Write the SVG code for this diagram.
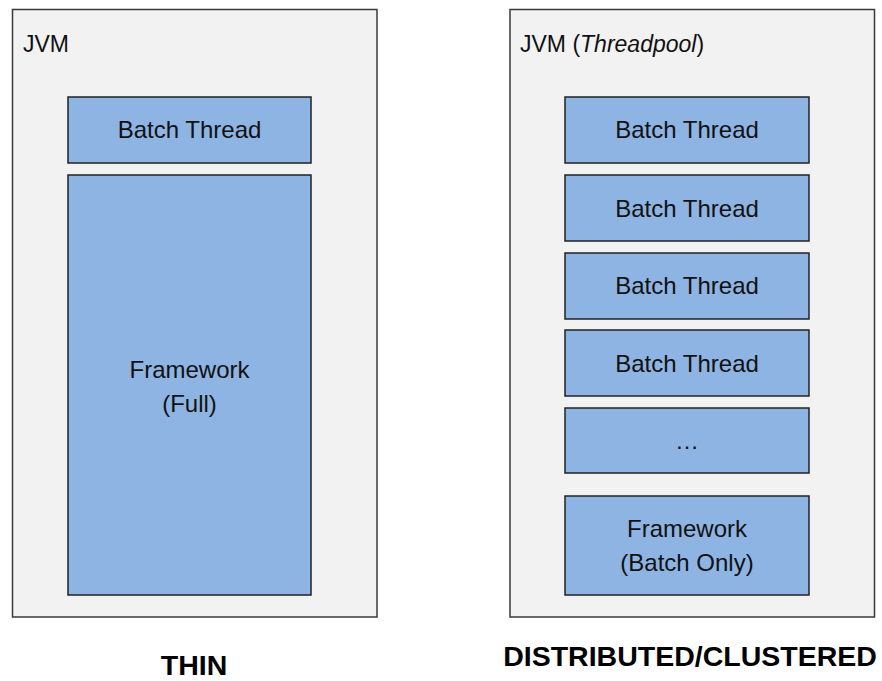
<svg xmlns="http://www.w3.org/2000/svg" width="882" height="681" viewBox="0 0 882 681">
<style>
.jvm{fill:#F2F2F2;stroke:#3A3A3A;stroke-width:1.5}
.blk{fill:#8EB4E3;stroke:#222222;stroke-width:1.5}
.t{font-family:"Liberation Sans",Arial,sans-serif;font-size:24px;fill:#111111;text-anchor:middle}
.lbl{font-family:"Liberation Sans",Arial,sans-serif;font-size:23px;fill:#111111}
.cap{font-family:"Liberation Sans",Arial,sans-serif;font-size:28.5px;font-weight:bold;fill:#000000;text-anchor:middle}
</style>
<rect width="882" height="681" fill="#FFFFFF"/>
<g id="jvm-thin">
<rect class="jvm" x="12.5" y="9.5" width="364.5" height="607.5"/>
<text class="lbl" x="23" y="52">JVM</text>
</g>
<g id="thin-batch-thread">
<rect class="blk" x="68" y="97" width="243" height="66"/>
<text class="t" x="189.5" y="138">Batch Thread</text>
</g>
<g id="thin-framework">
<rect class="blk" x="68" y="175" width="243" height="420"/>
<text class="t" x="189.5" y="378">Framework</text>
<text class="t" x="189.5" y="412">(Full)</text>
</g>
<g id="jvm-dist">
<rect class="jvm" x="510" y="9.5" width="364.5" height="607.5"/>
<text class="lbl" x="520" y="52">JVM (<tspan font-style="italic">Threadpool</tspan>)</text>
</g>
<g id="dist-batch-thread-1">
<rect class="blk" x="565" y="97" width="244" height="66"/>
<text class="t" x="687" y="138">Batch Thread</text>
</g>
<g id="dist-batch-thread-2">
<rect class="blk" x="565" y="175" width="244" height="66"/>
<text class="t" x="687" y="217">Batch Thread</text>
</g>
<g id="dist-batch-thread-3">
<rect class="blk" x="565" y="253" width="244" height="66"/>
<text class="t" x="687" y="294">Batch Thread</text>
</g>
<g id="dist-batch-thread-4">
<rect class="blk" x="565" y="330" width="244" height="66"/>
<text class="t" x="687" y="372">Batch Thread</text>
</g>
<g id="dist-more">
<rect class="blk" x="565" y="408" width="244" height="65"/>
<text class="t" x="687" y="449">…</text>
</g>
<g id="dist-framework">
<rect class="blk" x="565" y="496" width="244" height="99"/>
<text class="t" x="687" y="537">Framework</text>
<text class="t" x="687" y="571">(Batch Only)</text>
</g>
<g id="connectors"></g>
<text class="cap" x="194" y="675">THIN</text>
<text class="cap" x="690" y="666">DISTRIBUTED/CLUSTERED</text>
</svg>
